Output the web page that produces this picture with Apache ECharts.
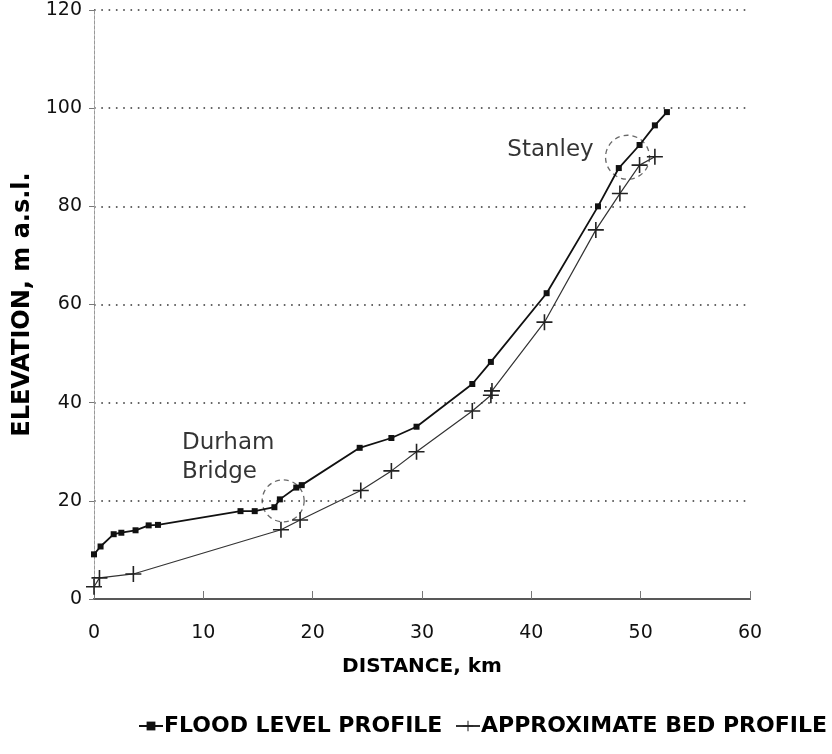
<!DOCTYPE html>
<html>
<head>
<meta charset="utf-8">
<script src="https://cdn.jsdelivr.net/npm/echarts@6/dist/echarts.min.js"></script>
<style>
html,body{margin:0;padding:0;background:#fff;}
#chart{width:832px;height:754px;}
</style>
</head>
<body>
<div id="chart"></div>
<script>
// Flood level profile (distance km, elevation m a.s.l.)
var floodDist = [0, 0.6, 1.8, 2.5, 3.8, 5.0, 5.85, 13.4, 14.7, 16.5, 17.0, 18.5, 19.0, 24.3, 27.2, 29.5, 34.6, 36.3, 41.4, 46.1, 48.0, 49.9, 51.3, 52.4];
var floodElev = [9.1, 10.7, 13.2, 13.5, 14.0, 15.0, 15.1, 17.9, 17.9, 18.7, 20.3, 22.7, 23.2, 30.8, 32.8, 35.1, 43.8, 48.3, 62.3, 80.0, 87.8, 92.5, 96.5, 99.2];
// Approximate bed profile
var bedDist = [0, 0.5, 3.6, 17.1, 18.85, 24.4, 27.2, 29.5, 34.6, 36.3, 36.4, 41.2, 45.9, 48.1, 49.9, 51.3];
var bedElev = [2.5, 4.3, 5.1, 14.1, 16.1, 22.1, 26.1, 30.0, 38.3, 41.5, 42.4, 56.4, 75.2, 82.6, 88.4, 90.1];
// Highlighted locations (dashed circles)
var circleDist = [17.3, 48.8];
var circleElev = [20, 90];
var circleSize = [42, 44];
// Annotation labels
var noteText = ['Durham\nBridge', 'Stanley'];
var noteDist = [8.05, 37.8];
var noteElev = [28.8, 91.4];
// Axes
var xTicks = {min: 0, max: 60, interval: 10};
var yTicks = {min: 0, max: 120, interval: 20};
var seriesNames = ['FLOOD LEVEL PROFILE', 'APPROXIMATE BED PROFILE'];

function zip(a, b) { return a.map(function (v, i) { return [v, b[i]]; }); }

var FONT = 'DejaVu Sans';
var plusPath = 'path://M0,4.5H10V5.5H0Z M4.5,0H5.5V10H4.5Z';
var legendText = {fontFamily: FONT, fontWeight: 'bold', fontSize: 22, color: '#000', padding: [0, 0, 0, -4]};

var chart = echarts.init(document.getElementById('chart'), null, {renderer: 'canvas'});
chart.setOption({
  backgroundColor: '#ffffff',
  animation: false,
  textStyle: {fontFamily: FONT},
  grid: {left: 94, right: 82, top: 10, bottom: 155},
  legend: [{
    bottom: 12, left: 133, itemWidth: 24, itemHeight: 11,
    data: [seriesNames[0]], textStyle: legendText
  }, {
    bottom: 12, left: 450, itemWidth: 24, itemHeight: 13,
    data: [seriesNames[1]], textStyle: legendText
  }],
  xAxis: [{
    type: 'value',
    min: xTicks.min, max: xTicks.max, interval: xTicks.interval,
    name: 'DISTANCE, km',
    nameLocation: 'middle',
    nameGap: 58,
    nameTextStyle: {fontFamily: FONT, fontWeight: 'bold', fontSize: 20, color: '#000'},
    axisLine: {show: true, lineStyle: {color: '#333', width: 2}},
    axisTick: {show: true, inside: true, length: 8, lineStyle: {color: '#777'}},
    axisLabel: {fontFamily: FONT, fontSize: 19, color: '#111', margin: 25},
    splitLine: {show: false}
  }, {
    type: 'value', position: 'top',
    min: xTicks.min, max: xTicks.max, interval: xTicks.interval,
    axisLine: {show: true, lineStyle: {color: '#666', width: 1.5}},
    axisTick: {show: false}, axisLabel: {show: false}, splitLine: {show: false}
  }],
  yAxis: [{
    type: 'value',
    min: yTicks.min, max: yTicks.max, interval: yTicks.interval,
    name: 'ELEVATION, m a.s.l.',
    nameLocation: 'middle',
    nameGap: 58,
    nameTextStyle: {fontFamily: FONT, fontWeight: 'bold', fontSize: 24, color: '#000'},
    axisLine: {show: true, lineStyle: {color: '#888', width: 1, type: [3, 2]}},
    axisTick: {show: true, inside: false, length: 5, lineStyle: {color: '#777'}},
    axisLabel: {fontFamily: FONT, fontSize: 19, color: '#111', margin: 12},
    splitLine: {show: true, lineStyle: {color: '#333', width: 1.6, type: [1.6, 5.7]}}
  }, {
    type: 'value', position: 'right',
    min: yTicks.min, max: yTicks.max, interval: yTicks.interval,
    axisLine: {show: true, lineStyle: {color: '#999', width: 1, type: [3, 2]}},
    axisTick: {show: false}, axisLabel: {show: false}, splitLine: {show: false}
  }],
  series: [
    {
      name: 'circles',
      type: 'scatter',
      z: 1,
      silent: true,
      symbol: 'circle',
      data: circleDist.map(function (d, i) { return {value: [d, circleElev[i]], symbolSize: circleSize[i]}; }),
      itemStyle: {color: 'rgba(0,0,0,0)', borderColor: '#444', borderWidth: 1.3, borderType: [5, 4]}
    },
    {
      name: 'notes',
      type: 'scatter',
      z: 3,
      silent: true,
      symbolSize: 0,
      itemStyle: {color: '#000'},
      data: noteText.map(function (t, i) { return {name: t, value: [noteDist[i], noteElev[i]]}; }),
      label: {
        show: true, position: [0, 0], align: 'left', verticalAlign: 'middle',
        formatter: '{b}', fontFamily: FONT, fontSize: 23, lineHeight: 29, color: '#000'
      }
    },
    {
      name: seriesNames[0],
      type: 'line',
      z: 5,
      data: zip(floodDist, floodElev),
      symbol: 'rect',
      symbolSize: 6,
      showAllSymbol: true,
      lineStyle: {color: '#111', width: 1.8},
      itemStyle: {color: '#111', borderColor: '#111', borderWidth: 0}
    },
    {
      name: seriesNames[1],
      type: 'line',
      z: 4,
      data: zip(bedDist, bedElev),
      symbol: plusPath,
      symbolSize: 16,
      showAllSymbol: true,
      lineStyle: {color: '#333', width: 1.2},
      itemStyle: {color: '#222', borderWidth: 0}
    }
  ]
});
</script>
</body>
</html>
